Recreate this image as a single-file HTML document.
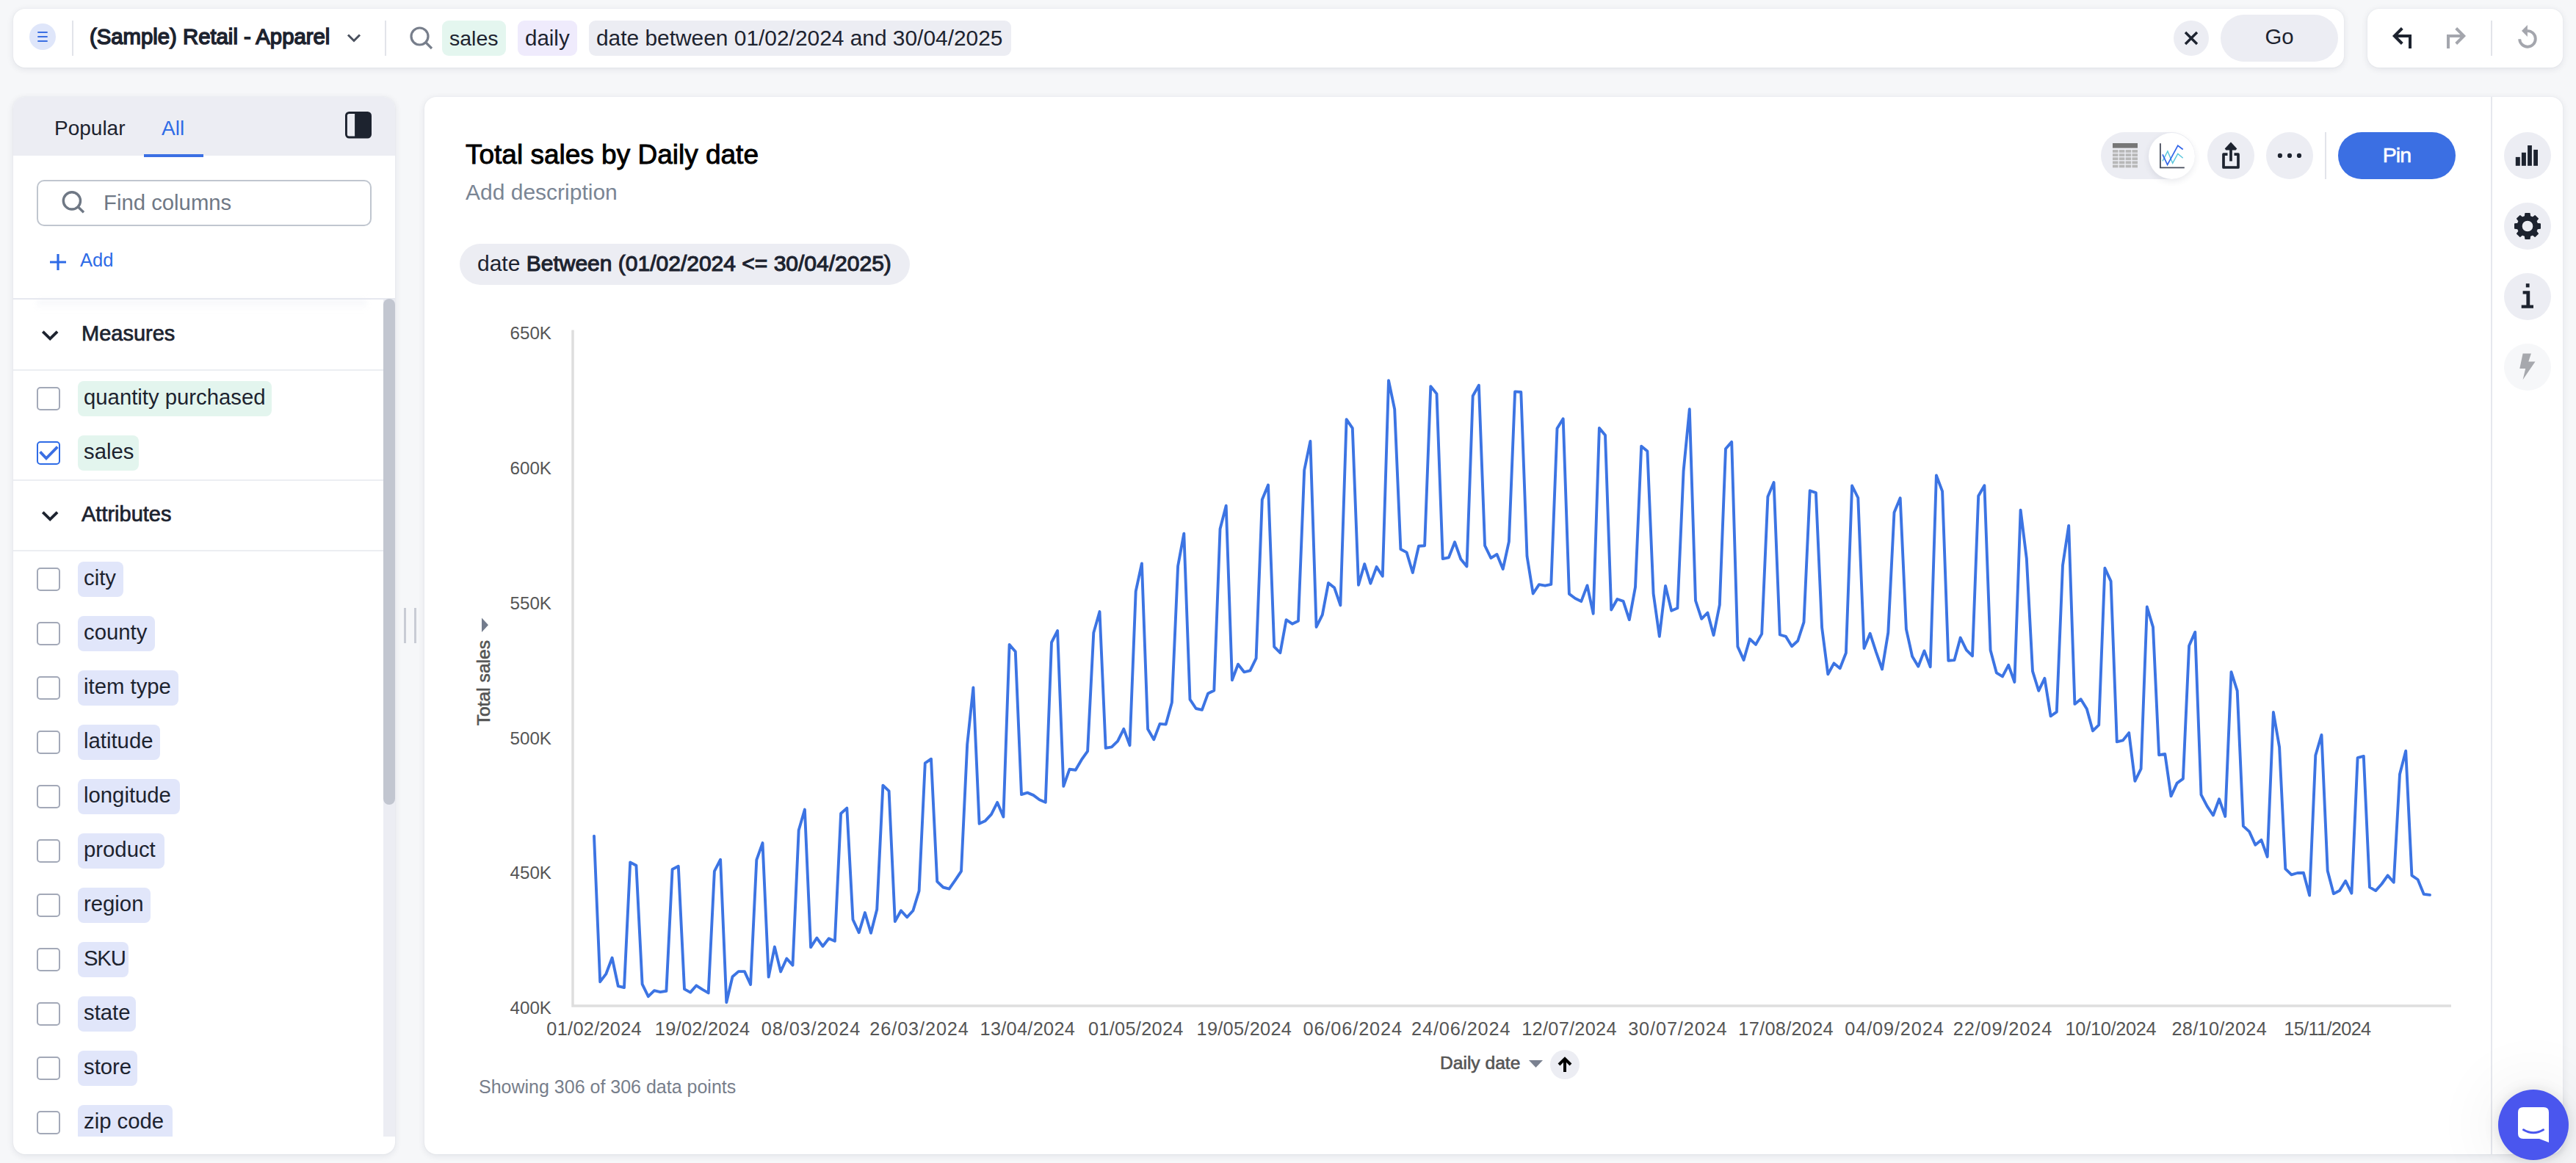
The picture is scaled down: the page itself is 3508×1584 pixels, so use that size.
<!DOCTYPE html>
<html lang="en">
<head>
<meta charset="utf-8">
<title>Total sales by Daily date</title>
<style>
*{box-sizing:border-box;margin:0;padding:0}
html,body{width:3508px;height:1584px;overflow:hidden;background:#f6f7f9}
body{position:relative;font-family:"Liberation Sans",sans-serif;color:#1d232f;font-size:28px;line-height:1}
.abs{position:absolute}
.med{-webkit-text-stroke:.6px currentColor}
.semi{-webkit-text-stroke:1.1px currentColor}
.semi2{-webkit-text-stroke:1.5px currentColor}
.card{position:absolute;background:#fff;border-radius:16px;box-shadow:0 2px 10px rgba(30,40,70,.10),0 0 2px rgba(30,40,70,.06)}
.t{position:absolute;white-space:nowrap;line-height:1}
.vdiv{position:absolute;width:2px;background:#e2e4ea}
.circ{position:absolute;border-radius:50%;background:#ecedf3}
.chip{position:absolute;height:48px;border-radius:8px;font-size:29.3px;line-height:44px;padding-left:8px;white-space:nowrap;overflow:hidden;color:#1d232f}
.chip.m{background:#e3f5ee}
.chip.a{background:#e1e6fa}
.cb{position:absolute;left:50px;width:32px;height:32px;border:2px solid #a3a9b8;border-radius:5px;background:#fff}
.hl{position:absolute;left:18px;width:504px;height:2px;background:#eceef2}
.sec{position:absolute;left:111px;font-size:29px;-webkit-text-stroke:.7px currentColor;white-space:nowrap;color:#1d232f}
svg{position:absolute;overflow:visible}
</style>
</head>
<body>

<!-- ============ TOP SEARCH BAR ============ -->
<div class="card" id="topbar" style="left:18px;top:12px;width:3174px;height:80px"></div>
<div class="circ" style="left:40px;top:32px;width:36px;height:36px;background:#dfe6fa"></div>
<svg style="left:40px;top:32px" width="36" height="36" viewBox="0 0 36 36"><path d="M11.3 12H24.7M11.3 18H24.7M11.3 24H24.7" stroke="#3b6fe3" stroke-width="2.2" fill="none"/></svg>
<div class="vdiv" style="left:98px;top:28px;height:48px"></div>
<div class="t semi2" id="wsname" style="left:122px;top:35px;font-size:29.3px">(Sample) Retail - Apparel</div>
<svg style="left:470px;top:40px" width="24" height="24" viewBox="0 0 24 24"><path d="M4 7.5L12 15.5L20 7.5" stroke="#4a515e" stroke-width="3" fill="none" stroke-linejoin="miter"/></svg>
<div class="vdiv" style="left:524px;top:28px;height:48px"></div>
<svg style="left:554px;top:32px" width="40" height="40" viewBox="0 0 40 40"><circle cx="17.5" cy="17.5" r="11.5" stroke="#777e8b" stroke-width="3.2" fill="none"/><path d="M26 26L34 34" stroke="#777e8b" stroke-width="3.2" fill="none"/></svg>
<div class="abs" style="left:602px;top:28px;width:87px;height:48px;border-radius:9px;background:#e4f6ef"></div>
<div class="t" id="tk1" style="left:612px;top:37.500px;font-size:28.5px">sales</div>
<div class="abs" style="left:705px;top:28px;width:81px;height:48px;border-radius:9px;background:#efebfc"></div>
<div class="t" id="tk2" style="left:715px;top:37px;font-size:29.5px">daily</div>
<div class="abs" style="left:802px;top:28px;width:575px;height:48px;border-radius:9px;background:#ecedf3"></div>
<div class="t" id="tk3" style="left:812px;top:36.500px;font-size:29.9px">date between 01/02/2024 and 30/04/2025</div>
<div class="circ" style="left:2960px;top:28px;width:48px;height:48px"></div>
<svg style="left:2960px;top:28px" width="48" height="48" viewBox="0 0 48 48"><path d="M16 16L32 32M32 16L16 32" stroke="#1d232f" stroke-width="3.4" fill="none"/></svg>
<div class="abs" style="left:3024px;top:20px;width:160px;height:64px;border-radius:32px;background:#ecedf3"></div>
<div class="t" id="go" style="left:3024px;top:35px;width:160px;text-align:center;font-size:29.3px">Go</div>

<!-- ============ UNDO / REDO ============ -->
<div class="card" style="left:3224px;top:12px;width:266px;height:80px"></div>
<svg style="left:3252px;top:32px" width="40" height="40" viewBox="0 0 40 40"><path d="M19.300 6.500L8.800 17L19.300 27.500" stroke="#1d232f" stroke-width="4" fill="none"/><path d="M9 17H30V34" stroke="#1d232f" stroke-width="4" fill="none"/></svg>
<svg style="left:3324px;top:32px" width="40" height="40" viewBox="0 0 40 40"><path d="M20.700 6.500L31.200 17L20.700 27.500" stroke="#a4a6ad" stroke-width="4" fill="none"/><path d="M31 17H10V34" stroke="#a4a6ad" stroke-width="4" fill="none"/></svg>
<div class="vdiv" style="left:3392px;top:28px;height:48px"></div>
<svg style="left:3422px;top:32px" width="40" height="40" viewBox="0 0 40 40"><path d="M19.500 10.100A10.800 10.800 0 1 1 9.200 21.200" stroke="#a4a6ad" stroke-width="3.900" fill="none"/><path d="M19.900 2L12 10L19.900 18Z" fill="#a4a6ad"/></svg>

<!-- ============ LEFT PANEL ============ -->
<div class="card" id="leftpanel" style="left:18px;top:132px;width:520px;height:1440px;overflow:hidden">
  <div class="abs" style="left:0;top:0;width:520px;height:80px;background:#ecedf3"></div>
</div>
<div class="t" id="tabpop" style="left:74px;top:161px;font-size:28px">Popular</div>
<div class="t" id="taball" style="left:220px;top:161px;font-size:28px;color:#2e6be6">All</div>
<div class="abs" style="left:196px;top:210px;width:81px;height:4px;background:#3b6fe3"></div>
<svg style="left:470px;top:152px" width="36" height="36" viewBox="0 0 36 36"><rect x="0" y="0" width="36" height="36.500" rx="5.500" fill="#1d232f"/><path d="M2.900 5.400Q2.900 2.900 5.400 2.900H13.100V33.500H5.400Q2.900 33.500 2.900 31Z" fill="#ecedf3"/></svg>

<div class="abs" style="left:50px;top:245px;width:456px;height:63px;border:2px solid #c0c6cf;border-radius:10px;background:#fff"></div>
<svg style="left:82px;top:257px" width="36" height="36" viewBox="0 0 36 36"><circle cx="15.900" cy="16.400" r="11.600" stroke="#6f7885" stroke-width="3.400" fill="none"/><path d="M24 24.500L32 32.200" stroke="#6f7885" stroke-width="3.400" fill="none"/></svg>
<div class="t" id="findcol" style="left:141px;top:261px;font-size:29.3px;color:#6f7885">Find columns</div>
<svg style="left:67px;top:345px" width="24" height="24" viewBox="0 0 24 24"><path d="M12 1V23M1 12H23" stroke="#2e6be6" stroke-width="3.200" fill="none"/></svg>
<div class="t" id="addlbl" style="left:109px;top:342px;font-size:25.5px;color:#2e6be6">Add</div>

<div class="abs" style="left:50px;top:408px;width:450px;height:14px;background:linear-gradient(to bottom,rgba(222,226,238,.30),rgba(255,255,255,0));filter:blur(3px)"></div>
<div class="hl" style="top:406px;width:520px;background:#e6e8ef"></div>

<!-- scrollbar -->
<div class="abs" style="left:522px;top:408px;width:16px;height:1140px;background:#ecedf3"></div>
<div class="abs" style="left:522px;top:407px;width:16px;height:689px;background:#c2c6d0;border-radius:8px"></div>

<!-- Measures -->
<svg style="left:54px;top:442px" width="28" height="28" viewBox="0 0 28 28"><path d="M4.300 9.700L14.200 19.300L24.100 9.700" stroke="#1d232f" stroke-width="3.900" fill="none"/></svg>
<div class="sec" id="secm" style="top:440px">Measures</div>
<div class="hl" style="top:503px"></div>
<div class="cb" style="top:527px"></div>
<div class="chip m" style="left:106px;top:519px;width:264px">quantity purchased</div>
<div class="cb" style="top:601px;border-color:#2e6be6"></div>
<svg style="left:50px;top:601px" width="32" height="32" viewBox="0 0 32 32"><path d="M4.600 14.400L13 23.300L28.300 7.600" stroke="#3b6fe3" stroke-width="3.900" fill="none"/></svg>
<div class="chip m" style="left:106px;top:593px;width:83px">sales</div>
<div class="hl" style="top:653px"></div>

<!-- Attributes -->
<svg style="left:54px;top:688px" width="28" height="28" viewBox="0 0 28 28"><path d="M4.300 9.700L14.200 19.300L24.100 9.700" stroke="#1d232f" stroke-width="3.900" fill="none"/></svg>
<div class="sec" id="seca" style="top:686px">Attributes</div>
<div class="hl" style="top:749px"></div>

<div class="cb" style="top:773px"></div><div class="chip a" style="left:106px;top:765px;width:62px">city</div>
<div class="cb" style="top:847px"></div><div class="chip a" style="left:106px;top:839px;width:105px">county</div>
<div class="cb" style="top:921px"></div><div class="chip a" style="left:106px;top:913px;width:137px">item type</div>
<div class="cb" style="top:995px"></div><div class="chip a" style="left:106px;top:987px;width:112px">latitude</div>
<div class="cb" style="top:1069px"></div><div class="chip a" style="left:106px;top:1061px;width:139px">longitude</div>
<div class="cb" style="top:1143px"></div><div class="chip a" style="left:106px;top:1135px;width:118px">product</div>
<div class="cb" style="top:1217px"></div><div class="chip a" style="left:106px;top:1209px;width:99px">region</div>
<div class="cb" style="top:1291px"></div><div class="chip a" style="left:106px;top:1283px;width:69px;letter-spacing:-1.200px">SKU</div>
<div class="cb" style="top:1365px"></div><div class="chip a" style="left:106px;top:1357px;width:79px">state</div>
<div class="cb" style="top:1439px"></div><div class="chip a" style="left:106px;top:1431px;width:81px">store</div>
<div class="cb" style="top:1513px"></div><div class="chip a" style="left:106px;top:1505px;width:129px;height:43px;border-radius:8px 8px 0 0">zip code</div>

<!-- resize handle -->
<div class="abs" style="left:550px;top:828px;width:3px;height:48px;background:#c9ccd5"></div>
<div class="abs" style="left:564px;top:828px;width:3px;height:48px;background:#c9ccd5"></div>

<!-- ============ MAIN PANEL ============ -->
<div class="card" id="mainpanel" style="left:578px;top:132px;width:2912px;height:1440px"></div>
<div class="abs" style="left:3392px;top:132px;width:2px;height:1440px;background:#e6e8ee"></div>

<div class="t" id="title" style="left:634px;top:192px;font-size:37px;-webkit-text-stroke:.9px #000;color:#000">Total sales by Daily date</div>
<div class="t" id="desc" style="left:634px;top:247px;font-size:30px;color:#7a8594">Add description</div>

<div class="abs" style="left:626px;top:332px;width:613px;height:56px;border-radius:28px;background:#ecedf3"></div>
<div class="t" id="filter" style="left:650px;top:343.500px;font-size:30px">date <span class="semi">Between (01/02/2024 &lt;= 30/04/2025)</span></div>

<!-- toolbar -->
<div class="abs" style="left:2861px;top:180px;width:128px;height:64px;border-radius:32px;background:#ecedf3"></div>
<div class="abs" style="left:2926px;top:180.500px;width:63px;height:63px;border-radius:50%;background:#fff;box-shadow:0 3px 8px rgba(40,50,80,.10)"></div>
<svg id="ictable" style="left:2877px;top:195px" width="34" height="34" viewBox="0 0 34 34"><rect x="0" y="0" width="34" height="6.600" fill="#777"/><g fill="#b8b8b8"><rect x="0.00" y="9.10" width="7.500" height="3.750"/><rect x="8.83" y="9.10" width="7.500" height="3.750"/><rect x="17.66" y="9.10" width="7.500" height="3.750"/><rect x="26.49" y="9.10" width="7.500" height="3.750"/><rect x="0.00" y="14.22" width="7.500" height="3.750"/><rect x="8.83" y="14.22" width="7.500" height="3.750"/><rect x="17.66" y="14.22" width="7.500" height="3.750"/><rect x="26.49" y="14.22" width="7.500" height="3.750"/><rect x="0.00" y="19.34" width="7.500" height="3.750"/><rect x="8.83" y="19.34" width="7.500" height="3.750"/><rect x="17.66" y="19.34" width="7.500" height="3.750"/><rect x="26.49" y="19.34" width="7.500" height="3.750"/><rect x="0.00" y="24.46" width="7.500" height="3.750"/><rect x="8.83" y="24.46" width="7.500" height="3.750"/><rect x="17.66" y="24.46" width="7.500" height="3.750"/><rect x="26.49" y="24.46" width="7.500" height="3.750"/><rect x="0.00" y="29.58" width="7.500" height="3.750"/><rect x="8.83" y="29.58" width="7.500" height="3.750"/><rect x="17.66" y="29.58" width="7.500" height="3.750"/><rect x="26.49" y="29.58" width="7.500" height="3.750"/></g></svg>
<svg id="icline" style="left:2940px;top:194px" width="36" height="36" viewBox="0 0 36 36"><path d="M1.900 1.300V34.400H34.800" stroke="#464c5b" stroke-width="1.800" fill="none"/><path d="M5 25.400L11.900 12L18.700 28.200L25.800 15.500L32.700 21.300" stroke="#5cc8dc" stroke-width="1.500" fill="none"/><path d="M5 16.400L11.600 30.300L25.800 4.300L32.700 9.500" stroke="#3366e8" stroke-width="1.700" fill="none"/></svg>
<div class="circ" style="left:3006px;top:180px;width:64px;height:64px"></div>
<svg id="icshare" style="left:3018px;top:192px" width="40" height="40" viewBox="0 0 40 40"><path d="M15.500 18.200H10V36H30V18.200H24.500" stroke="#1d232f" stroke-width="3.700" fill="none" stroke-linejoin="round"/><path d="M20 27.500V9" stroke="#1d232f" stroke-width="3.700" fill="none"/><path d="M20 1.600L28.300 10.600L26.600 12.400H13.400L11.700 10.600Z" fill="#1d232f"/></svg>
<div class="circ" style="left:3086px;top:180px;width:64px;height:64px"></div>
<svg style="left:3098px;top:192px" width="40" height="40" viewBox="0 0 40 40"><circle cx="6.900" cy="19.900" r="3.100" fill="#1d232f"/><circle cx="20" cy="19.900" r="3.100" fill="#1d232f"/><circle cx="33" cy="19.900" r="3.100" fill="#1d232f"/></svg>
<div class="vdiv" style="left:3166px;top:180px;height:64px;background:#e2e4ea"></div>
<div class="abs" style="left:3184px;top:180px;width:160px;height:64px;border-radius:32px;background:#3b6fe3"></div>
<div class="t" id="pin" style="left:3184px;top:196.500px;width:160px;text-align:center;font-size:28.500px;letter-spacing:-.9px;color:#fff;-webkit-text-stroke:.6px #fff">Pin</div>

<!-- right rail -->
<div class="circ" style="left:3410px;top:180px;width:64px;height:64px"></div>
<svg style="left:3426px;top:196px" width="32" height="32" viewBox="0 0 32 32"><g fill="#1d232f"><rect x="-0.200" y="17.900" width="6" height="11.900"/><rect x="7.900" y="11.800" width="6" height="18"/><rect x="16.100" y="2" width="5.800" height="27.800"/><rect x="24.200" y="7.900" width="5.800" height="21.900"/></g></svg>
<div class="circ" style="left:3410px;top:276px;width:64px;height:64px"></div>
<svg id="icgear" style="left:3422px;top:288px" width="40" height="40" viewBox="0 0 40 40"><path d="M16.61 6.73L17.04 2.75L22.96 2.75L23.39 6.73L26.99 8.22L30.10 5.71L34.29 9.90L31.78 13.01L33.27 16.61L37.25 17.04L37.25 22.96L33.27 23.39L31.78 26.99L34.29 30.10L30.10 34.29L26.99 31.78L23.39 33.27L22.96 37.25L17.04 37.25L16.61 33.27L13.01 31.78L9.90 34.29L5.71 30.10L8.22 26.99L6.73 23.39L2.75 22.96L2.75 17.04L6.73 16.61L8.22 13.01L5.71 9.90L9.90 5.71L13.01 8.22ZM28.1 20A8.1 8.1 0 1 0 11.9 20A8.1 8.1 0 1 0 28.1 20Z" fill="#1d232f" fill-rule="evenodd" stroke="#1d232f" stroke-width="1.5" stroke-linejoin="round"/></svg>
<div class="circ" style="left:3410px;top:372px;width:64px;height:64px"></div>
<svg style="left:3426px;top:388px" width="32" height="32" viewBox="0 0 32 32"><g fill="#1d232f"><rect x="13.800" y="-1.800" width="4.800" height="5.200"/><path d="M9.600 8.200H19.200V27.400H24V31.700H7.700V27.400H14.400V12.400H9.600Z"/></g></svg>
<div class="circ" style="left:3410px;top:468px;width:64px;height:64px;background:#f6f7f9"></div>
<svg style="left:3426px;top:484px" width="32" height="32" viewBox="0 0 32 32"><path d="M9.600 -2.400H20.900L17.300 8.400H26.500L9.600 33.200L13.200 18.100H5.300Z" fill="#a6a8ad"/></svg>

<!-- ============ CHART ============ -->
<svg id="chart" style="left:0;top:0" width="3508" height="1584" viewBox="0 0 3508 1584">
<g font-family="Liberation Sans, sans-serif" font-size="24.2" fill="#555" text-anchor="end">
<text x="751" y="462">650K</text><text x="751" y="646">600K</text><text x="751" y="830">550K</text><text x="751" y="1014">500K</text><text x="751" y="1197">450K</text><text x="751" y="1381">400K</text>
</g>
<path d="M780 449.500V1370H3338" stroke="#dedede" stroke-width="3.500" fill="none"/>
<g font-family="Liberation Sans, sans-serif" font-size="25.3" fill="#555" text-anchor="middle" id="xlabels"><text x="809.0" y="1410" textLength="129.3" lengthAdjust="spacing">01/02/2024</text><text x="956.5" y="1410" textLength="129.3" lengthAdjust="spacing">19/02/2024</text><text x="1104.1" y="1410" textLength="134.5" lengthAdjust="spacing">08/03/2024</text><text x="1251.6" y="1410" textLength="134.5" lengthAdjust="spacing">26/03/2024</text><text x="1399.2" y="1410" textLength="129.3" lengthAdjust="spacing">13/04/2024</text><text x="1546.7" y="1410" textLength="129.3" lengthAdjust="spacing">01/05/2024</text><text x="1694.2" y="1410" textLength="129.3" lengthAdjust="spacing">19/05/2024</text><text x="1841.8" y="1410" textLength="134.5" lengthAdjust="spacing">06/06/2024</text><text x="1989.3" y="1410" textLength="134.5" lengthAdjust="spacing">24/06/2024</text><text x="2136.9" y="1410" textLength="129.3" lengthAdjust="spacing">12/07/2024</text><text x="2284.4" y="1410" textLength="134.5" lengthAdjust="spacing">30/07/2024</text><text x="2432.0" y="1410" textLength="129.3" lengthAdjust="spacing">17/08/2024</text><text x="2579.5" y="1410" textLength="134.5" lengthAdjust="spacing">04/09/2024</text><text x="2727.0" y="1410" textLength="134.5" lengthAdjust="spacing">22/09/2024</text><text x="2874.6" y="1410" textLength="124.1" lengthAdjust="spacing">10/10/2024</text><text x="3022.1" y="1410" textLength="129.3" lengthAdjust="spacing">28/10/2024</text><text x="3169.7" y="1410" textLength="118.9" lengthAdjust="spacing">15/11/2024</text></g>
<path id="series" d="M809.0 1138.7L817.2 1337.2L825.4 1326.3L833.6 1304.5L841.8 1343.1L850.0 1345.0L858.2 1174.4L866.4 1178.7L874.6 1340.4L882.8 1357.2L891.0 1349.2L899.2 1351.1L907.4 1349.8L915.6 1184.0L923.8 1179.8L932.0 1347.1L940.1 1351.6L948.3 1342.3L956.5 1347.6L964.7 1352.4L972.9 1186.7L981.1 1170.7L989.3 1365.2L997.5 1330.3L1005.7 1323.1L1013.9 1323.1L1022.1 1341.0L1030.3 1171.2L1038.5 1148.1L1046.7 1330.6L1054.9 1289.6L1063.1 1323.4L1071.3 1305.5L1079.5 1314.6L1087.7 1130.7L1095.9 1102.5L1104.1 1290.1L1112.3 1277.5L1120.5 1288.8L1128.7 1278.2L1136.9 1281.8L1145.1 1108.0L1153.3 1100.6L1161.5 1252.5L1169.7 1270.1L1177.9 1243.0L1186.0 1270.8L1194.2 1238.8L1202.4 1069.6L1210.6 1077.4L1218.8 1255.0L1227.0 1240.2L1235.2 1249.3L1243.4 1240.2L1251.6 1213.4L1259.8 1039.3L1268.0 1033.7L1276.2 1200.7L1284.4 1208.5L1292.6 1210.6L1300.8 1198.9L1309.0 1186.6L1317.2 1013.9L1325.4 936.4L1333.6 1121.8L1341.8 1117.9L1350.0 1109.1L1358.2 1092.9L1366.4 1112.6L1374.6 877.9L1382.8 887.5L1391.0 1082.1L1399.2 1079.6L1407.4 1083.1L1415.6 1089.2L1423.8 1092.8L1432.0 875.0L1440.1 859.1L1448.3 1070.8L1456.5 1047.7L1464.7 1048.8L1472.9 1034.7L1481.1 1023.1L1489.3 861.7L1497.5 833.1L1505.7 1018.8L1513.9 1017.3L1522.1 1009.4L1530.3 992.8L1538.5 1015.2L1546.7 805.3L1554.9 767.4L1563.1 993.1L1571.3 1007.2L1579.5 985.9L1587.7 986.6L1595.9 956.7L1604.1 771.0L1612.3 726.6L1620.5 952.7L1628.7 965.0L1636.9 966.8L1645.1 944.4L1653.3 940.4L1661.5 720.5L1669.7 688.7L1677.9 926.3L1686.0 904.7L1694.2 915.3L1702.4 913.3L1710.6 896.7L1718.8 680.4L1727.0 660.6L1735.2 880.9L1743.4 889.2L1751.6 844.1L1759.8 849.7L1768.0 845.7L1776.2 640.4L1784.4 600.9L1792.6 854.0L1800.8 837.4L1809.0 793.9L1817.2 800.6L1825.4 824.4L1833.6 571.2L1841.8 583.1L1850.0 796.7L1858.2 768.2L1866.4 794.7L1874.6 772.1L1882.8 784.8L1891.0 518.2L1899.2 557.4L1907.4 748.0L1915.6 752.4L1923.8 780.0L1932.0 743.7L1940.1 743.3L1948.3 526.1L1956.5 536.4L1964.7 761.0L1972.9 759.4L1981.1 738.3L1989.3 761.5L1997.5 771.4L2005.7 539.3L2013.9 524.8L2022.1 743.2L2030.3 760.0L2038.5 755.0L2046.7 775.1L2054.9 737.7L2063.1 533.4L2071.3 534.0L2079.5 757.5L2087.7 808.5L2095.9 796.2L2104.1 797.7L2112.3 795.9L2120.5 583.6L2128.7 570.3L2136.9 808.9L2145.1 815.0L2153.3 819.1L2161.5 797.4L2169.7 835.8L2177.9 582.9L2186.0 592.8L2194.2 830.5L2202.4 816.0L2210.6 818.8L2218.8 844.1L2227.0 799.6L2235.2 607.7L2243.4 614.5L2251.6 808.5L2259.8 866.8L2268.0 797.9L2276.2 831.8L2284.4 828.3L2292.6 641.5L2300.8 557.2L2309.0 818.0L2317.2 842.8L2325.4 834.5L2333.6 865.2L2341.8 823.9L2350.0 611.2L2358.2 601.9L2366.4 880.6L2374.6 898.9L2382.8 870.3L2391.0 877.9L2399.2 863.4L2407.4 676.6L2415.6 657.0L2423.8 864.5L2432.0 866.9L2440.1 880.3L2448.3 872.7L2456.5 847.3L2464.7 668.3L2472.9 671.1L2481.1 854.8L2489.3 918.2L2497.5 903.4L2505.7 910.2L2513.9 889.2L2522.1 661.5L2530.3 678.0L2538.5 883.0L2546.7 862.8L2554.9 888.1L2563.1 911.5L2571.3 861.6L2579.5 698.1L2587.7 678.3L2595.9 856.8L2604.1 894.0L2612.3 907.7L2620.5 886.4L2628.7 908.3L2636.9 647.5L2645.1 669.1L2653.3 899.7L2661.5 899.1L2669.7 868.6L2677.9 885.4L2686.0 893.4L2694.2 675.5L2702.4 661.2L2710.6 885.4L2718.8 916.3L2727.0 921.4L2735.2 905.8L2743.4 929.0L2751.6 694.6L2759.8 760.4L2768.0 914.1L2776.2 940.8L2784.4 923.9L2792.6 975.4L2800.8 969.7L2809.0 770.0L2817.2 715.9L2825.4 958.9L2833.6 952.2L2841.8 965.6L2850.0 995.4L2858.2 987.4L2866.4 773.8L2874.6 791.6L2882.8 1010.4L2891.0 1008.4L2899.2 998.1L2907.4 1063.8L2915.6 1047.2L2923.8 826.5L2932.0 854.1L2940.1 1028.2L2948.3 1027.0L2956.5 1084.4L2964.7 1066.6L2972.9 1060.6L2981.1 879.5L2989.3 860.9L2997.5 1082.4L3005.7 1098.2L3013.9 1110.5L3022.1 1088.3L3030.3 1112.0L3038.5 915.1L3046.7 940.8L3054.9 1125.1L3063.1 1132.6L3071.3 1150.8L3079.5 1144.1L3087.7 1167.0L3095.9 970.0L3104.1 1017.7L3112.3 1183.4L3120.5 1191.4L3128.7 1189.0L3136.9 1188.8L3145.1 1219.6L3153.3 1028.7L3161.5 1000.9L3169.7 1185.9L3177.9 1217.2L3186.0 1213.1L3194.2 1199.8L3202.4 1216.6L3210.6 1032.2L3218.8 1029.9L3227.0 1208.4L3235.2 1213.1L3243.4 1204.0L3251.6 1192.4L3259.8 1201.7L3268.0 1054.5L3276.2 1022.7L3284.4 1192.4L3292.6 1198.0L3300.8 1217.9L3309.0 1218.9" stroke="#3c74e3" stroke-width="3.900" fill="none" stroke-linejoin="round" stroke-linecap="round"/>
<text transform="translate(666.500 988.200) rotate(-90)" font-family="Liberation Sans, sans-serif" font-size="24.6" fill="#555" stroke="#555" stroke-width=".6">Total sales</text>
<path d="M656 841.500L656 861L665 851.200Z" fill="#737c8d"/>
</svg>
<div id="xtitle" class="t med" style="left:1961px;top:1436px;font-size:24.6px;color:#555">Daily date</div>
<svg style="left:2082px;top:1443px" width="20" height="12" viewBox="0 0 20 12"><path d="M0 1H19L9.500 11Z" fill="#7a8190"/></svg>
<div class="circ" style="left:2111px;top:1430px;width:40px;height:40px"></div>
<svg style="left:2119px;top:1438px" width="24" height="24" viewBox="0 0 24 24"><path d="M12 22V5" stroke="#000" stroke-width="4" fill="none"/><path d="M4 12L12 4L20 12" stroke="#000" stroke-width="4" fill="none"/></svg>
<div class="t" id="showing" style="left:652px;top:1468px;font-size:25px;color:#777e8b">Showing 306 of 306 data points</div>

<!-- intercom bubble -->
<div class="abs" style="left:3402px;top:1484px;width:96px;height:96px;border-radius:50%;background:#4a56ee;box-shadow:0 2px 20px rgba(0,0,0,.13),0 0 80px 24px rgba(0,0,0,.045)"></div>
<svg style="left:3402px;top:1484px" width="96" height="96" viewBox="0 0 96 96"><path d="M34 24H62Q69 24 69 31V72L56 67H34Q27 67 27 60V31Q27 24 34 24Z" fill="#fff"/><path d="M34.500 54.800Q48 62.800 61.500 54.800" stroke="#4a56ee" stroke-width="3" fill="none" stroke-linecap="round"/></svg>

</body>
</html>
